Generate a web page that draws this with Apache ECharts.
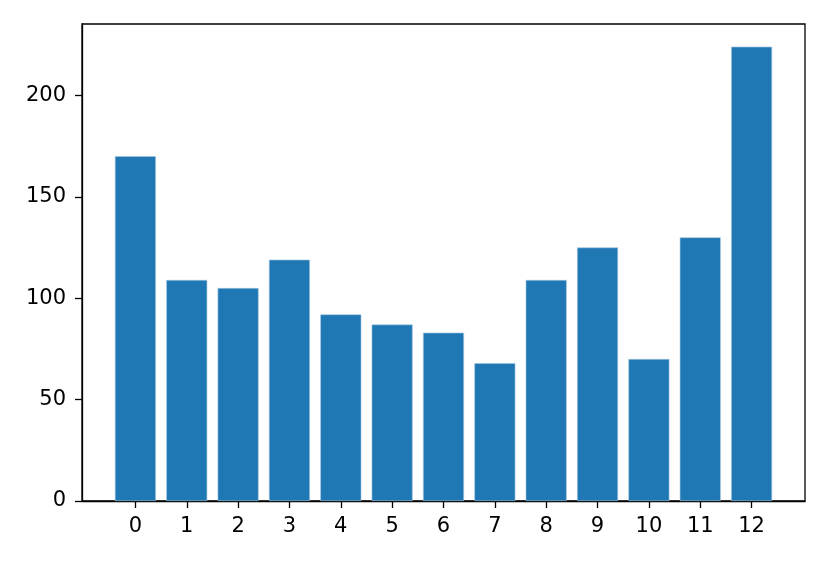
<!DOCTYPE html>
<html>
<head>
<meta charset="utf-8">
<script src="https://cdn.jsdelivr.net/npm/echarts@6/dist/echarts.min.js"></script>
<style>
  html, body { margin: 0; padding: 0; background: #fff; }
  #chart { width: 830px; height: 564px; }
</style>
</head>
<body>
<div id="chart"></div>
<script>
// Bar heights, one per category 0..12
const categories = [0, 1, 2, 3, 4, 5, 6, 7, 8, 9, 10, 11, 12];
const counts = [170, 109, 105, 119, 92, 87, 83, 68, 109, 125, 70, 130, 224];
const yTicks = [0, 50, 100, 150, 200];

const chart = echarts.init(document.getElementById('chart'), null, { renderer: 'canvas' });

const axisLine = { show: true, onZero: false, lineStyle: { color: '#000', width: 1.3 } };
const tickStyle = { color: '#000', width: 1.3 };
const labelFont = { color: '#000', fontSize: 21, fontFamily: 'DejaVu Sans' };

chart.setOption({
    backgroundColor: '#fff',
    animation: false,
    // grid border gives the top and right spines
    grid: { left: 82, right: 25, top: 24, bottom: 63, show: true, borderColor: '#000', borderWidth: 1.3 },
    xAxis: {
        type: 'value',
        min: -1.04,
        max: 13.04,
        axisLine,
        axisTick: { show: true, length: 7, lineStyle: tickStyle, customValues: categories },
        axisLabel: { ...labelFont, margin: 15, customValues: categories },
        splitLine: { show: false }
    },
    yAxis: {
        type: 'value',
        min: 0,
        max: 235.2,
        axisLine,
        axisTick: { show: true, length: 7, lineStyle: tickStyle, customValues: yTicks },
        axisLabel: { ...labelFont, margin: 16, customValues: yTicks },
        splitLine: { show: false }
    },
    series: [{
        type: 'bar',
        data: categories.map((c, i) => [c, counts[i]]),
        barWidth: 41,
        itemStyle: { color: '#1f77b4', borderColor: '#a6c8e0', borderWidth: 0.6 }
    }]
});
</script>
</body>
</html>
